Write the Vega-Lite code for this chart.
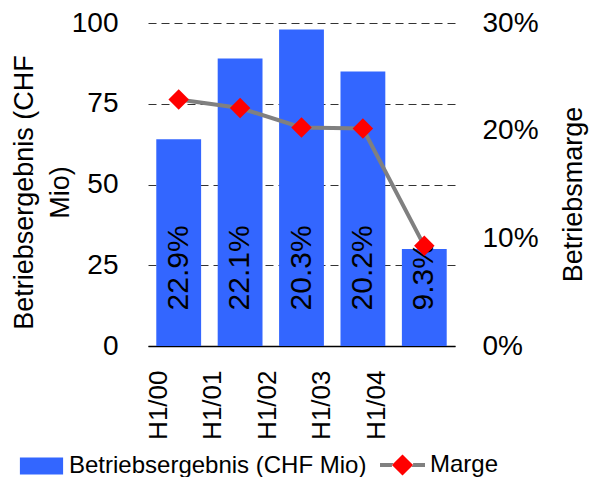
{
  "$schema": "https://vega.github.io/schema/vega-lite/v6.json",
  "width": 307,
  "height": 323,
  "autosize": {"type": "none"},
  "padding": {"left": 148, "top": 23, "right": 135, "bottom": 131},
  "config": {
    "font": "Liberation Sans",
    "view": {"stroke": null},
    "axis": {"labelColor": "black", "titleColor": "black", "titleFontWeight": "normal"},
    "legend": {"labelColor": "black"}
  },
  "data": {
    "values": [
      {"period": "H1/00", "ergebnis": 64, "marge": 0.229},
      {"period": "H1/01", "ergebnis": 89, "marge": 0.221},
      {"period": "H1/02", "ergebnis": 98, "marge": 0.203},
      {"period": "H1/03", "ergebnis": 85, "marge": 0.202},
      {"period": "H1/04", "ergebnis": 30, "marge": 0.093}
    ]
  },
  "layer": [
    {
      "layer": [
        {
          "layer": [
            {
              "mark": {"type": "bar"},
              "encoding": {
                "x": {
                  "field": "period", "type": "nominal", "sort": null,
                  "scale": {"paddingInner": 0.27, "paddingOuter": 0.135},
                  "axis": {"orient": "bottom", "labels": false, "ticks": false, "tickSize": 0, "title": null, "domainColor": "black", "domainWidth": 1.5, "grid": false}
                },
                "y": {
                  "field": "ergebnis", "type": "quantitative",
                  "scale": {"domain": [0, 100], "nice": false},
                  "axis": {
                    "values": [0, 25, 50, 75, 100],
                    "grid": true, "gridDash": [8, 5], "gridColor": "#333333", "gridWidth": 1,
                    "domain": false, "ticks": false, "tickSize": 0,
                    "labelFontSize": 28, "labelPadding": 30,
                    "title": ["Betriebsergebnis (CHF", "Mio)"],
                    "titleFontSize": 27, "titleLineHeight": 36, "titleAngle": 270,
                    "titleAlign": "center", "titleBaseline": "middle",
                    "titleX": -124, "titleY": 169
                  }
                },
                "color": {
                  "datum": "Betriebsergebnis (CHF Mio)", "type": "nominal",
                  "scale": {"domain": ["Betriebsergebnis (CHF Mio)", "Marge"], "range": ["#3366FF", "#FF0000"]},
                  "legend": {
                    "orient": "none", "legendX": -131, "legendY": 417,
                    "direction": "horizontal", "columns": 2, "title": null,
                    "labelFontSize": 24, "labelLimit": 400, "symbolSize": 2025, "labelOffset": 3, "columnPadding": 5,
                    "encode": {
                      "symbols": {
                        "update": {
                          "shape": {"signal": "datum.value === 'Marge' ? 'M-1,0H-0.47L0,-0.47L0.47,0H1H0.47L0,0.47L-0.47,0Z' : 'M-0.96,-0.38H0.96V0.38H-0.96Z'"},
                          "stroke": {"signal": "datum.value === 'Marge' ? '#808080' : 'transparent'"},
                          "strokeWidth": {"value": 4},
                          "strokeDash": {"signal": "datum.value === 'Marge' ? [11.925, 29.91, 23.85, 29.91, 11.925, 200] : [1, 0]"}
                        }
                      }
                    }
                  }
                }
              }
            },
            {
              "mark": {"type": "text", "angle": 270, "align": "left", "baseline": "middle", "fontSize": 30, "color": "black"},
              "encoding": {
                "x": {"field": "period", "type": "nominal", "sort": null},
                "y": {"datum": 11, "type": "quantitative"},
                "text": {"field": "marge", "type": "quantitative", "format": ".1%"}
              }
            }
          ]
        },
        {
          "layer": [
            {
              "mark": {"type": "line", "color": "#808080", "strokeWidth": 4},
              "encoding": {
                "x": {"field": "period", "type": "nominal", "sort": null},
                "y": {
                  "field": "marge", "type": "quantitative",
                  "scale": {"domain": [0, 0.3], "nice": false},
                  "axis": {
                    "orient": "right",
                    "values": [0, 0.1, 0.2, 0.3], "format": ".0%",
                    "grid": false, "domain": false, "ticks": false, "tickSize": 0,
                    "labelFontSize": 28, "labelPadding": 27,
                    "title": "Betriebsmarge", "titleFontSize": 27, "titleAngle": 270,
                    "titleAlign": "center", "titleBaseline": "middle",
                    "titleX": 118, "titleY": 171
                  }
                }
              }
            },
            {
              "mark": {"type": "point", "shape": "diamond", "size": 420, "filled": true, "opacity": 1, "strokeWidth": 0},
              "encoding": {
                "x": {"field": "period", "type": "nominal", "sort": null},
                "y": {"field": "marge", "type": "quantitative"},
                "color": {"datum": "Marge", "type": "nominal"}
              }
            }
          ]
        }
      ],
      "resolve": {"scale": {"y": "independent"}}
    },
    {
      "mark": {"type": "text", "text": " "},
      "encoding": {
        "x": {
          "field": "period", "type": "ordinal", "sort": null,
          "scale": {"type": "point", "padding": 0.8165, "align": 0.1124},
          "axis": {"orient": "bottom", "domain": false, "ticks": false, "tickSize": 0, "labelAngle": 270, "labelFontSize": 26, "labelPadding": 24, "title": null, "grid": false}
        }
      }
    }
  ],
  "resolve": {"scale": {"x": "independent", "y": "independent"}}
}
